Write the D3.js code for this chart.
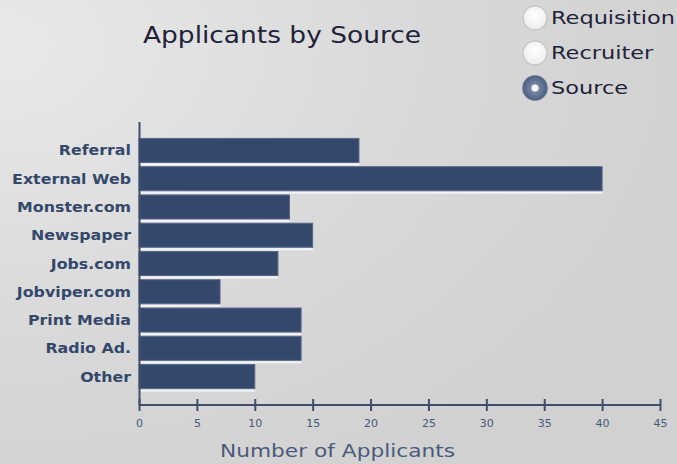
<!DOCTYPE html>
<html><head><meta charset="utf-8">
<script src="https://cdn.jsdelivr.net/npm/d3@7"></script>
<style>html,body{margin:0;padding:0;background:#d4d4d4;}svg{display:block;}</style>
</head><body>
<script>
const categories = ["Referral","External Web","Monster.com","Newspaper","Jobs.com","Jobviper.com","Print Media","Radio Ad.","Other"];
const applicants = [19,40,13,15,12,7,14,14,10];
const xTicks = [0,5,10,15,20,25,30,35,40,45];
const radioOptions = ["Requisition","Recruiter","Source"];
const selectedOption = "Source";
const titleText = "Applicants by Source";
const xTitle = "Number of Applicants";

const W=677,H=464;
const FONT="DejaVu Sans, Verdana, sans-serif";
const svg=d3.select("body").append("svg").attr("width",W).attr("height",H);
const defs=svg.append("defs");
const bg=defs.append("radialGradient").attr("id","bg").attr("cx","0").attr("cy","0.1").attr("r","1.1");
bg.append("stop").attr("offset","0").attr("stop-color","#e9e9e9");
bg.append("stop").attr("offset","0.6").attr("stop-color","#d8d8d8");
bg.append("stop").attr("offset","1").attr("stop-color","#d1d1d1");
svg.append("rect").attr("width",W).attr("height",H).attr("fill","url(#bg)");

// widen glyphs by a factor (reference font renders wider than DejaVu)
function stretch(sel, k, anchorEnd){
  sel.each(function(){
    const L=this.getComputedTextLength();
    const s=d3.select(this).attr("textLength",(L*k).toFixed(1)).attr("lengthAdjust","spacingAndGlyphs");
    if(anchorEnd){ s.attr("x", +s.attr("data-right") - L*k); }
  });
}

const x=d3.scaleLinear().domain([0,45]).range([139,660]);
const y=d3.scaleBand().domain(categories).range([137,390]).paddingInner(0.15).paddingOuter(0.05);

// bars
const g=svg.append("g");
g.selectAll("rect.hl").data(categories).join("rect")
 .attr("x",x(0)).attr("y",d=>y(d)+y.bandwidth()+1).attr("height",2)
 .attr("width",(d,i)=>x(applicants[i])-x(0)).attr("fill","#f4f4f4");
g.selectAll("rect.bar").data(categories).join("rect")
 .attr("x",x(0)).attr("y",d=>y(d)).attr("height",y.bandwidth())
 .attr("width",(d,i)=>x(applicants[i])-x(0))
 .attr("fill","#34486b").attr("stroke","#56678a").attr("stroke-width",1);

// y axis line
svg.append("line").attr("x1",139.5).attr("x2",139.5).attr("y1",122).attr("y2",405).attr("stroke","#3e4e6e").attr("stroke-width",2);
// y labels
const yl=svg.selectAll("text.yl").data(categories).join("text")
 .attr("data-right",131).attr("y",d=>y(d)+y.bandwidth()/2).attr("dy","0.36em")
 .attr("font-family",FONT).attr("font-weight","bold").attr("font-size",14).attr("fill","#34486b").text(d=>d);
stretch(yl,1.13,true);

// x axis
const xa=svg.append("g").attr("transform","translate(0,405)")
 .call(d3.axisBottom(x).tickValues(xTicks).tickSize(5).tickSizeOuter(0));
xa.select(".domain").attr("stroke","#3e4e6e").attr("stroke-width",2).attr("d","M139,0H661");
xa.selectAll(".tick line").attr("stroke","#3e4e6e").attr("stroke-width",2).attr("y1",-6).attr("y2",6);
xa.selectAll(".tick text").attr("y",14).attr("font-family",FONT)
 .attr("font-size",11).attr("fill","#4a5878");

const xt=svg.append("text").attr("x",220).attr("y",457)
 .attr("font-family",FONT).attr("font-size",18).attr("fill","#4a5a7c").text(xTitle);
stretch(xt,235/ (183*18/17));
xt.attr("textLength",235);

// title
const tt=svg.append("text").attr("x",143).attr("y",43)
 .attr("font-family",FONT).attr("font-size",23).attr("fill","#22223a").text(titleText);
tt.attr("textLength",278).attr("lengthAdjust","spacingAndGlyphs");

// radio buttons
const rg=defs.append("radialGradient").attr("id","rsel").attr("cx","0.5").attr("cy","0.5").attr("r","0.5");
rg.append("stop").attr("offset","0").attr("stop-color","#8a9ab8");
rg.append("stop").attr("offset","1").attr("stop-color","#4e5f80");
const ru=defs.append("radialGradient").attr("id","runs").attr("cx","0.5").attr("cy","0.4").attr("r","0.6");
ru.append("stop").attr("offset","0").attr("stop-color","#ffffff");
ru.append("stop").attr("offset","1").attr("stop-color","#ececec");
const rad=svg.selectAll("g.radio").data(radioOptions).join("g").attr("transform",(d,i)=>`translate(535,${18+i*35})`);
rad.append("circle").attr("r",12).attr("fill",d=>d===selectedOption?"url(#rsel)":"url(#runs)")
 .attr("stroke",d=>d===selectedOption?"#5b6a86":"#c8c8c8").attr("stroke-width",1.5);
rad.filter(d=>d===selectedOption).append("circle").attr("r",3.5).attr("fill","#ffffff");
const rt=rad.append("text").attr("x",16).attr("dy","0.36em").attr("font-family",FONT)
 .attr("font-size",17).attr("fill","#22223a").text(d=>d);
stretch(rt,1.32);
</script>
</body></html>
